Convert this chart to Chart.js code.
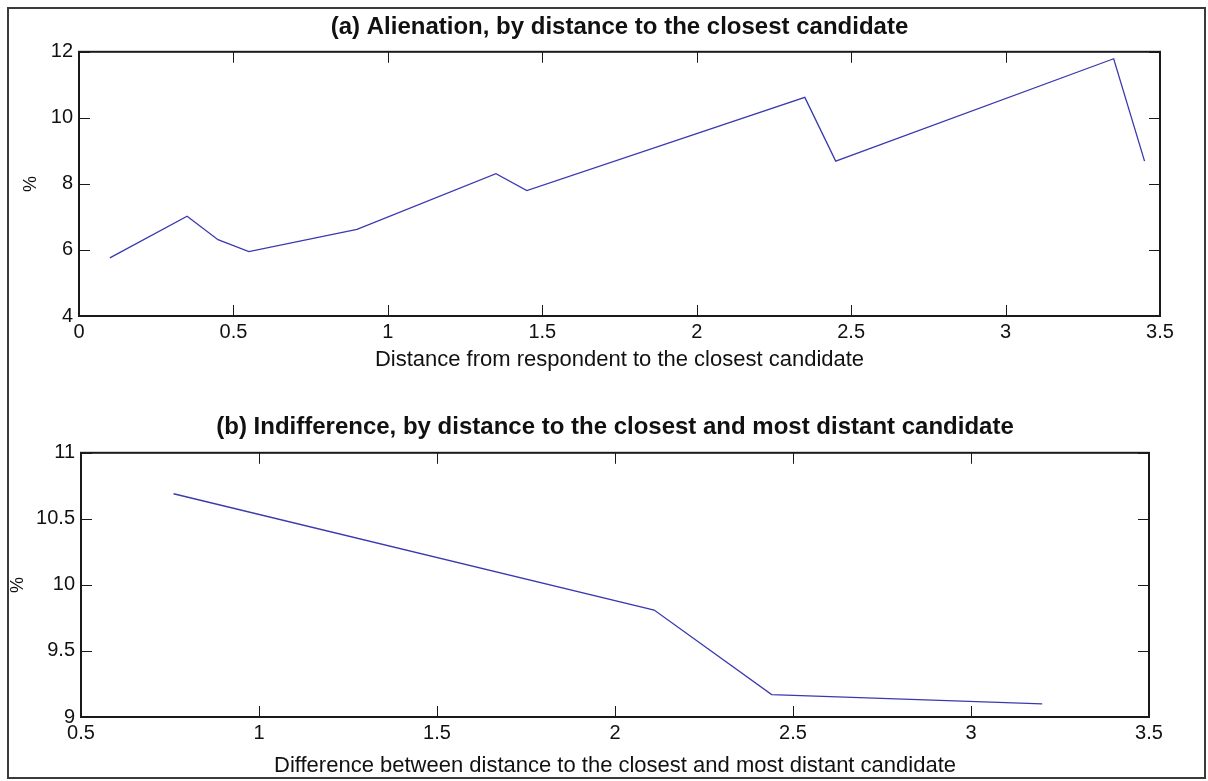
<!DOCTYPE html>
<html>
<head>
<meta charset="utf-8">
<title>Alienation and indifference</title>
<script src="https://cdn.jsdelivr.net/npm/chart.js@4/dist/chart.umd.min.js"></script>
<style>
    html, body { margin: 0; padding: 0; background: #fff; }
    #page { position: relative; width: 1208px; height: 781px; overflow: hidden; }
    canvas { position: absolute; left: 0; }
    #chart-a { top: 0; }
    #chart-b { top: 400px; }
    #frame {
        position: absolute; left: 7px; top: 7px; width: 1199px; height: 772px;
        box-sizing: border-box; border: 2px solid #3a3a3a; pointer-events: none;
    }
</style>
</head>
<body>
<div id="page">
    <canvas id="chart-a" width="1208" height="400"></canvas>
    <canvas id="chart-b" width="1208" height="381"></canvas>
    <div id="frame"></div>
</div>
<script>
// (a) alienation by distance to the closest candidate
const distClosest = [0.1, 0.35, 0.45, 0.55, 0.9, 1.35, 1.45, 2.35, 2.45, 3.35, 3.45];
const alienationPct = [5.76, 7.02, 6.31, 5.95, 6.62, 8.31, 7.8, 10.62, 8.69, 11.79, 8.69];
const xTicksA = [0, 0.5, 1, 1.5, 2, 2.5, 3, 3.5];
const yTicksA = [4, 6, 8, 10, 12];

// (b) indifference by difference between closest and most distant candidate
const distDiff = [0.76, 2.11, 2.44, 3.2];
const indifferencePct = [10.69, 9.81, 9.17, 9.1];
const xTicksB = [0.5, 1, 1.5, 2, 2.5, 3, 3.5];
const yTicksB = [9, 9.5, 10, 10.5, 11];

const FONT = "'Liberation Sans', Arial, Helvetica, sans-serif";
const INK = '#111111';
const LINE = '#3a3ab0';

Chart.defaults.font.family = FONT;
Chart.defaults.color = INK;

// matlab style box with inward ticks on all four sides
const boxAxes = {
    id: 'boxAxes',
    afterDatasetsDraw(chart) {
        const { ctx, chartArea: a, scales: { x, y } } = chart;
        const len = 11;
        ctx.save();
        ctx.strokeStyle = '#1a1a1a';
        ctx.lineWidth = 1;
        ctx.beginPath();
        x.ticks.forEach((t) => {
            const px = Math.round(x.getPixelForValue(t.value)) + 0.5;
            ctx.moveTo(px, a.bottom);
            ctx.lineTo(px, a.bottom - len);
            ctx.moveTo(px, a.top);
            ctx.lineTo(px, a.top + len);
        });
        y.ticks.forEach((t) => {
            const py = Math.round(y.getPixelForValue(t.value)) + 0.5;
            ctx.moveTo(a.left, py);
            ctx.lineTo(a.left + len, py);
            ctx.moveTo(a.right, py);
            ctx.lineTo(a.right - len, py);
        });
        ctx.stroke();
        ctx.lineWidth = 2;
        ctx.strokeRect(a.left, a.top, a.right - a.left, a.bottom - a.top);
        ctx.restore();
    },
};

const plainNumber = (value) => String(value);

const makeChart = (canvas, cfg) => new Chart(canvas, {
    type: 'scatter',
    data: {
        datasets: [{
            data: cfg.xs.map((v, i) => ({ x: v, y: cfg.ys[i] })),
            showLine: true,
            borderColor: LINE,
            borderWidth: 1.3,
            pointRadius: 0,
            tension: 0,
        }],
    },
    options: {
        responsive: false,
        animation: false,
        layout: { padding: { left: 0, right: cfg.padRight, top: 0, bottom: 0 } },
        plugins: {
            legend: { display: false },
            tooltip: { enabled: false },
            title: {
                display: true,
                text: cfg.title,
                fullSize: false,
                color: INK,
                font: { size: 24, weight: 'bold' },
                padding: cfg.titlePad,
            },
        },
        scales: {
            x: {
                type: 'linear',
                min: cfg.xTicks[0],
                max: cfg.xTicks[cfg.xTicks.length - 1],
                afterBuildTicks: (s) => { s.ticks = cfg.xTicks.map((v) => ({ value: v })); },
                grid: { display: false, drawTicks: false },
                border: { display: false },
                ticks: { font: { size: 20 }, padding: 4, maxRotation: 0, autoSkip: false, color: INK, callback: plainNumber },
                title: {
                    display: true,
                    text: cfg.xLabel,
                    font: { size: 22 },
                    color: INK,
                    padding: { top: 0, bottom: cfg.xTitleBottom },
                },
                afterFit: (s) => { s.height = cfg.xHeight; },
            },
            y: {
                type: 'linear',
                min: cfg.yTicks[0],
                max: cfg.yTicks[cfg.yTicks.length - 1],
                afterBuildTicks: (s) => { s.ticks = cfg.yTicks.map((v) => ({ value: v })); },
                grid: { display: false, drawTicks: false },
                border: { display: false },
                ticks: { font: { size: 20 }, padding: 6, autoSkip: false, color: INK, callback: plainNumber },
                title: {
                    display: true,
                    text: '%',
                    font: { size: 18 },
                    color: INK,
                    padding: { top: cfg.yTitleLeft, bottom: 0 },
                },
                afterFit: (s) => { s.width = cfg.yWidth; },
            },
        },
    },
    plugins: [boxAxes],
});

makeChart(document.getElementById('chart-a'), {
    xs: distClosest,
    ys: alienationPct,
    xTicks: xTicksA,
    yTicks: yTicksA,
    title: '(a) Alienation, by distance to the closest candidate',
    xLabel: 'Distance from respondent to the closest candidate',
    titlePad: { top: 13, bottom: 10 },
    padRight: 48,
    xHeight: 84,
    xTitleBottom: 27,
    yWidth: 79,
    yTitleLeft: 20,
});

makeChart(document.getElementById('chart-b'), {
    xs: distDiff,
    ys: indifferencePct,
    xTicks: xTicksB,
    yTicks: yTicksB,
    title: '(b) Indifference, by distance to the closest and most distant candidate',
    xLabel: 'Difference between distance to the closest and most distant candidate',
    titlePad: { top: 13, bottom: 11 },
    padRight: 59,
    xHeight: 64,
    xTitleBottom: 2,
    yWidth: 81,
    yTitleLeft: 7,
});
</script>
</body>
</html>
